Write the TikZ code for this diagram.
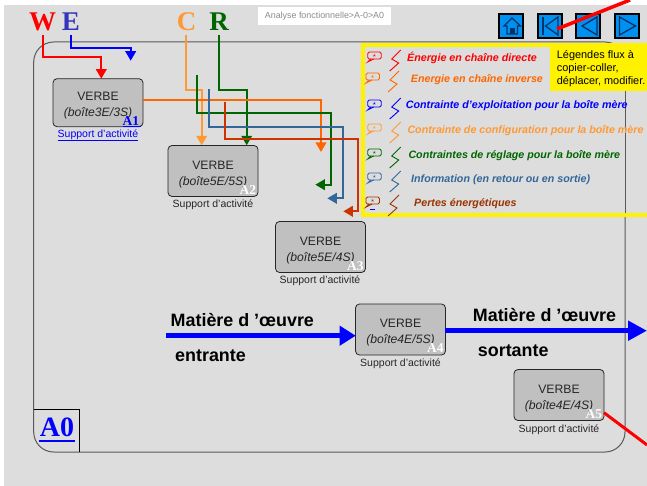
\documentclass[tikz,border=0pt]{standalone}
\usepackage{fontspec}
\setmainfont{Liberation Sans}
\newfontfamily\serifb{Liberation Serif}
\usetikzlibrary{arrows.meta}
\definecolor{bggrey}{HTML}{DDDDDD}
\definecolor{boxgrey}{HTML}{C0C0C0}
\definecolor{cOrange}{HTML}{FF9933}
\definecolor{cDeep}{HTML}{FF6600}
\definecolor{cGreen}{HTML}{006600}
\definecolor{cSteel}{HTML}{336699}
\definecolor{cBrick}{HTML}{CC3300}
\definecolor{cBlue}{HTML}{0000FF}
\definecolor{cRust}{HTML}{993300}
\definecolor{cNav}{HTML}{0090F0}
\definecolor{cNavD}{HTML}{003366}
\definecolor{cWE}{HTML}{3333BB}
\tikzset{x=1pt,y=-1pt,
 flow/.style={line width=2pt,-{Triangle[length=9.5pt,width=10.5pt]}},
 verbe/.style={draw=black!85,fill=boxgrey,rounded corners=4pt,line width=.8pt,minimum width=90pt,minimum height=51pt,inner sep=0pt,align=center,font=\fontsize{12.2}{16}\selectfont,text=black!85},
 supp/.style={font=\fontsize{10.5}{12}\selectfont,text=black!85,inner sep=0pt},
 tag/.style={font=\serifb\bfseries\fontsize{13.5}{13.5}\selectfont,text=white,anchor=south east,inner sep=0pt},
 letter/.style={font=\serifb\bfseries\fontsize{27}{27}\selectfont,inner sep=0pt},
 navbtn/.style={draw=black,fill=cNav,line width=2pt,minimum size=24pt,inner sep=0pt},
 leg/.style={font=\bfseries\itshape\fontsize{10.7}{12}\selectfont,anchor=west,inner sep=0pt,yshift=-1pt},
 matter/.style={font=\bfseries\fontsize{17.9}{20}\selectfont,text=black,anchor=west,inner sep=0pt,yshift=-.5pt},
}
\newcommand{\vbtext}[1]{\rule{0pt}{15pt}VERBE\\\textit{#1}}
\newcommand{\legicons}[3]{% x, y, colour
 \draw[draw=#3,line width=.9pt,rounded corners=1.5pt] (#1,#2-4) rectangle (#1+13.5,#2+3);
 \draw[draw=#3,line width=.9pt] (#1+3,#2+3) -- (#1,#2+6) -- (#1+6,#2+3);
 \node[text=#3,font=\fontsize{7}{7}\selectfont,inner sep=0pt] at (#1+6.7,#2-0.5) {$\star$};
 \draw[draw=#3,line width=.9pt] (#1+33,#2-6) -- (#1+24,#2+3) -- (#1+31,#2+7) -- (#1+22,#2+15);
}
\begin{document}
\begin{tikzpicture}
\useasboundingbox (0,0) rectangle (647,486);
\fill[white] (0,0) rectangle (647,486);
\fill[bggrey] (4,5) rectangle (647,486);
% main frame
\draw[black!65,line width=1pt,rounded corners=20pt] (33.7,42) rectangle (625,452);
\draw[black,line width=.6pt] (33.7,409.3) -- (79.3,409.3) -- (79.3,452);
\node[text=cBlue,font=\serifb\bfseries\fontsize{28}{28}\selectfont,inner sep=0pt] (a0) at (57,427.5) {A0};
\draw[cBlue,line width=2pt] (39,441) -- (75,441);
% header box
\node[fill=white,minimum width=133pt,minimum height=18pt,inner sep=0pt,text=black!45,font=\fontsize{8.9}{10}\selectfont] (hdr) at (324.5,16) {Analyse fonctionnelle>A-0>A0};
% WECR
\node[letter,text=red] (W) at (42.7,21.5) {W};
\node[letter,text=cWE] (E) at (71,21.5) {E};
\node[letter,text=cOrange] (C) at (186.5,21.5) {C};
\node[letter,text=cGreen] (R) at (219,21.5) {R};
% boxes
\node[verbe,minimum height=48pt] (A1) at (98,102.7) {\vbtext{(boîte3E/3S)}};
\node[verbe] (A2) at (213,171) {\vbtext{(boîte5E/5S)}};
\node[verbe] (A3) at (320.5,247) {\vbtext{(boîte5E/4S)}};
\node[verbe] (A4) at (400.5,329.5) {\vbtext{(boîte4E/5S)}};
\node[verbe] (A5) at (559,395) {\vbtext{(boîte4E/4S)}};
\node[tag,text=cBlue] at ([xshift=-4pt,yshift=1.5pt]A1.south east) {A1};
\draw[cBlue,line width=.9pt] (123,126.7) -- (141,126.7);
\node[tag] at ([xshift=-2pt,yshift=2.5pt]A2.south east) {A2};
\node[tag] at ([xshift=-2pt,yshift=2.5pt]A3.south east) {A3};
\node[tag] at ([xshift=-2pt,yshift=2.5pt]A4.south east) {A4};
\node[tag] at ([xshift=-2pt,yshift=2.5pt]A5.south east) {A5};
\node[supp,text=cBlue] (s1) at (98,135) {Support d'activité};
\draw[cBlue,line width=.7pt] (s1.south west) -- (s1.south east);
\node[supp] (s2) at (213,205) {Support d'activité};
\node[supp] (s3) at (320,281) {Support d'activité};
\node[supp] (s4) at (400.5,364) {Support d'activité};
\node[supp] (s5) at (559,430) {Support d'activité};
% free ends
\coordinate (w0) at (42.7,35); \coordinate (e0) at (71,35);
\coordinate (c0) at (185.7,35); \coordinate (r0) at (218.7,35);
\coordinate (a1out) at (143,100);
\coordinate (a4in) at (355.7,335.7);
\coordinate (a4out) at (445.3,330.7);
\coordinate (a5out) at (604,412.7);
% W, E arrows
\draw[flow,red] (w0) -- (42.7,57.3) -- (101.3,57.3) -- (101.3,78.7);
\draw[flow,cBlue] (e0) -- (71,48.3) -- (130.7,48.3) -- (130.7,60.7);
% C, R arrows to A2
\draw[flow,cOrange] (c0) -- (185.7,90.3) -- (201.7,90.3) -- (201.7,145.3);
\draw[flow,cGreen] (r0) -- (218.7,90.3) -- (246.7,90.3) -- (246.7,145.3);
% outputs
\draw[flow,cDeep] (a1out) -- (321,100) -- (321,152);
\draw[flow,cGreen] (196.7,75.3) -- (196.7,112.7) -- (330.7,112.7) -- (330.7,184.7) -- (315.3,184.7);
\draw[flow,cSteel] (209,89.3) -- (209,126.7) -- (343,126.7) -- (343,198.3) -- (327.3,198.3);
\draw[flow,cBrick] (225,101.7) -- (225,138.7) -- (358.3,138.7) -- (358.3,211.3) -- (343.3,211.3);
% matter flow
\draw[line width=5.5pt,cBlue,-{Triangle[length=16pt,width=19pt]}] (166,335.7) -- (a4in);
\draw[line width=5.5pt,cBlue,-{Triangle[length=19pt,width=19pt]}] (a4out) -- (647,330.7);
\node[matter] at (170.5,320) {Matière d ’œuvre};
\node[matter] at (175,355) {entrante};
\node[matter] at (472.7,315) {Matière d ’œuvre};
\node[matter] at (477.7,350) {sortante};
\draw[red,line width=3pt] (a5out) -- (647,445);
% legend
\draw[yellow,line width=4pt,fill=bggrey] (363,45.3) rectangle (652,215);
\fill[yellow] (550,45) rectangle (647,90.7);
\draw[black!65,line width=.8pt] (625,90.7) -- (625,213);
\node[anchor=north west,inner sep=0pt,align=left,font=\fontsize{10.9}{13}\selectfont,text=black] (note) at (556.7,50.5) {Légendes flux à\\copier-coller,\\déplacer, modifier.};
\legicons{367.7}{56}{red}
\legicons{366}{77}{cDeep}
\legicons{367.7}{104}{cBlue}
\legicons{367.7}{128}{cOrange}
\legicons{367.7}{153}{cGreen}
\legicons{367.7}{177}{cSteel}
\legicons{366}{201}{cRust}
\draw[cBlue,line width=.7pt] (370,209) -- (375,209);
\node[leg,text=red] at (407,57.3) {Énergie en chaîne directe};
\node[leg,text=cDeep] at (410.7,78.3) {Energie en chaîne inverse};
\node[leg,text=cBlue] at (405.7,105) {Contrainte d'exploitation pour la boîte mère};
\node[leg,text=cOrange] at (407.3,129.3) {Contrainte de configuration pour la boîte mère};
\node[leg,text=cGreen] at (408.3,154.3) {Contraintes de réglage pour la boîte mère};
\node[leg,text=cSteel] at (411,178.3) {Information (en retour ou en sortie)};
\node[leg,text=cRust] at (414,202.3) {Pertes énergétiques};
% nav buttons
\node[navbtn] (b1) at (511,26) {};
\node[navbtn] (b2) at (550,26) {};
\node[navbtn] (b3) at (588,26) {};
\node[navbtn] (b4) at (627,26) {};
\draw[cNavD,line width=1.3pt,fill=cNav] (504,26) -- (512,18) -- (520.5,26) -- (517.5,26) -- (517.5,34) -- (507,34) -- (507,26) -- cycle;
\fill[cNavD] (510,28.5) rectangle (514.5,34);
\fill[cNavD] (541.7,17) rectangle (544,35);
\draw[cNavD,line width=1.3pt] (558,17) -- (545.5,26) -- (558,35) -- cycle;
\draw[cNavD,line width=1.3pt] (597,17) -- (582,26) -- (597,35) -- cycle;
\draw[cNavD,line width=1.3pt] (619.5,17) -- (635.5,26) -- (619.5,35) -- cycle;
% red pointer
\coordinate (p1) at (630,0);
\coordinate (p2) at (557,29);
\draw[red,line width=3.5pt] (p1) -- (p2);
\end{tikzpicture}
\end{document}
